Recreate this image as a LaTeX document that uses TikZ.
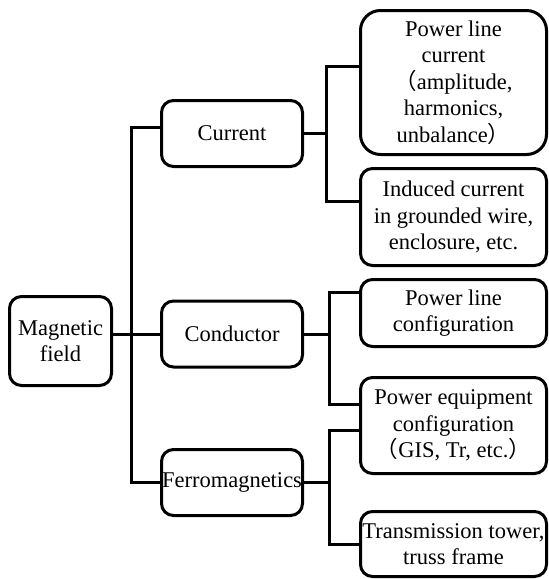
\documentclass[tikz,border=0pt]{standalone}
\usepackage{fontspec}
\setmainfont{Liberation Serif}
\newfontfamily\cjk{Noto Sans CJK SC}
\tikzset{
  box/.style={draw, line width=1.5pt, rounded corners=6pt, align=center, inner sep=0pt,
    font=\fontsize{11.25}{13.3}\selectfont},
  leaf/.style={box, minimum width=93pt},
  mid/.style={box, minimum width=70.5pt, minimum height=33pt},
  link/.style={line width=1.5pt}
}
\begin{document}
\begin{tikzpicture}[x=0.5pt, y=-0.5pt]
\useasboundingbox (0,0) rectangle (549,579);
\node[box, minimum width=51pt, minimum height=44.5pt] (mag) at (60.5,341) {Magnetic\\field};
\node[mid] (cur) at (232,133.5) {Current};
\node[mid] (cond) at (232,334) {Conductor};
\node[mid] (ferro) at (232,482.5) {Ferromagnetics};
\node[leaf, minimum height=72pt, rounded corners=10pt] (plc) at (453.5,82.5)
  {Power line\\current\\{\cjk （}amplitude,\\harmonics,\\unbalance{\cjk ）}};
\node[leaf, minimum height=48.5pt] (ind) at (453.5,217)
  {Induced current\\in grounded wire,\\enclosure, etc.};
\node[leaf, minimum height=33.5pt] (plcfg) at (453.5,313) {Power line\\configuration};
\node[leaf, minimum height=48pt] (peq) at (453.5,425.5)
  {Power equipment\\configuration\\{\cjk （}GIS, Tr, etc.{\cjk ）}};
\node[leaf, minimum height=32.5pt] (tower) at (453.5,544) {Transmission tower,\\truss frame};
\coordinate (trunk) at (131,0);
\coordinate (jcur) at (326,0);
\coordinate (jcond) at (329,0);
\draw[link] (mag.east |- cond.west) -- (cond.west);
\draw[link] ([yshift=3pt]cur.west) -| (trunk |- ferro.west) -- (ferro.west);
\draw[link] (cur.east) -- (jcur |- cur.east);
\draw[link] ([yshift=8pt]plc.west) -| (jcur |- cur.east) |- ([yshift=8pt]ind.west);
\draw[link] (cond.east) -- (jcond |- cond.east);
\draw[link] ([yshift=10.5pt]plcfg.west) -| (jcond |- cond.east) |- ([yshift=10.75pt]peq.west);
\draw[link] (ferro.east) -- (jcond |- ferro.east);
\draw[link] ([yshift=-2.25pt]peq.west) -| (jcond |- ferro.east) |- (tower.west);
\end{tikzpicture}
\end{document}
